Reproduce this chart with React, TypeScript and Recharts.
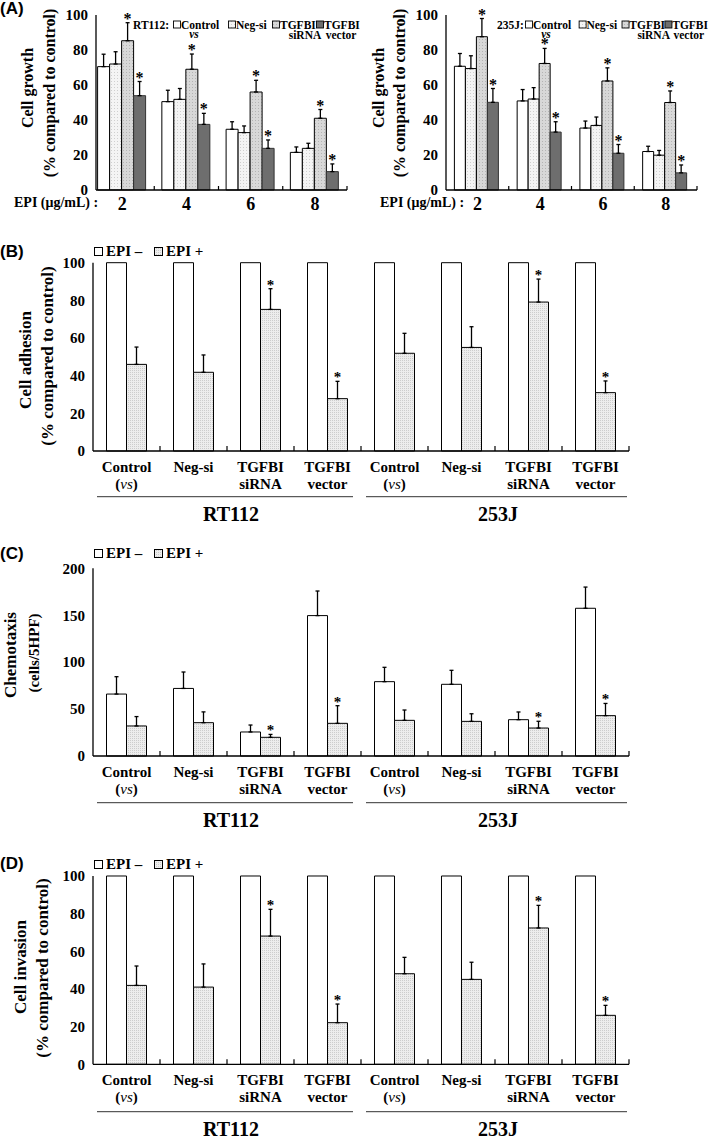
import React from "react";
import { BarChart, Bar, XAxis, YAxis, ErrorBar, LabelList } from "recharts";

const SERIF = "'Liberation Serif', 'Times New Roman', serif";
const SANS = "'Liberation Sans', Arial, sans-serif";

// (A) cell growth (% of control) at each EPI dose
const doses = ["2", "4", "6", "8"];

const rtControl = [70.5, 50.5, 34.7, 21.5];
const rtControlErr = [7.1, 6.5, 4.3, 3.1];
const rtNegSi = [72, 51.8, 32.8, 23.8];
const rtNegSiErr = [7, 6.2, 3.8, 2.9];
const rtSiRNA = [85.3, 69, 56, 41];
const rtSiRNAErr = [10.3, 8.7, 6.7, 5];
const rtVector = [53.9, 37.5, 23.8, 10.5];
const rtVectorErr = [8.1, 6.3, 4.8, 4.4];

const jControl = [70.7, 50.9, 35.4, 22];
const jControlErr = [7.3, 6.5, 4, 3];
const jNegSi = [69.4, 52, 36.9, 19.9];
const jNegSiErr = [7.3, 6.5, 4.8, 2.7];
const jSiRNA = [87.6, 72.3, 62.3, 50];
const jSiRNAErr = [10.4, 8.6, 7.5, 6.6];
const jVector = [50.1, 33.1, 21, 9.8];
const jVectorErr = [7.9, 5.9, 5, 4.5];

const growthStars = [true, true, true, true];
const noStars = [false, false, false, false];

// (B)-(D) two cell lines x four treatments, without / with EPI
const cellLines = ["RT112", "253J"];
const treatTop = ["Control", "Neg-si", "TGFBI", "TGFBI"];
const treatBottom = ["(vs)", "", "siRNA", "vector"];
const epiStars = [false, false, true, true, false, false, true, true];
const noEpiStars = [false, false, false, false, false, false, false, false];

const adhesionMinus = [100, 100, 100, 100, 100, 100, 100, 100];
const adhesionPlus = [46, 41.8, 75.2, 27.8, 51.9, 55, 79.1, 31];
const adhesionPlusErr = [9.2, 9.2, 11, 9.2, 10.6, 11, 12.2, 6.2];

const chemoMinus = [66, 72, 25.6, 149.6, 79.2, 76.4, 38.7, 157.4];
const chemoMinusErr = [18.5, 17.5, 7.4, 26.2, 15.3, 14.9, 8.2, 22.6];
const chemoPlus = [32, 35.5, 19.9, 34.8, 38, 36.9, 29.8, 43];
const chemoPlusErr = [10, 11.5, 3.1, 18.8, 11, 8.1, 7.2, 13];

const invasionMinus = [100, 100, 100, 100, 100, 100, 100, 100];
const invasionPlus = [41.9, 41, 68.1, 22.1, 48.1, 45.1, 72.4, 26];
const invasionPlusErr = [10.3, 12.3, 14.2, 9.9, 8.7, 9.1, 12, 5.3];

const pctTicks = [0, 20, 40, 60, 80, 100];
const chemoTicks = [0, 50, 100, 150, 200];

const yTickStyle = { fill: "#000", fontSize: 15, fontWeight: 700, fontFamily: SERIF };
const axisLine = { stroke: "#000", strokeWidth: 1.3 };

// asterisk above the error bar, placed from the bar's own geometry
function starLabel(vals: number[], errs: number[] | null, stars: boolean[], size: number) {
  return (p: any) => {
    const i = p.index;
    if (!stars[i]) return null;
    const vb = p.viewBox && p.viewBox.width != null ? p.viewBox : p;
    const h = Math.abs(Number(vb.height));
    const top = Math.min(Number(vb.y), Number(vb.y) + Number(vb.height));
    const e = errs ? errs[i] : 0;
    const errTop = top - (e * h) / vals[i];
    return (
      <text x={Number(vb.x) + Number(vb.width) / 2} y={errTop + 1} textAnchor="middle"
        fontFamily={SERIF} fontWeight={700} fontSize={size} fill="#000">*</text>
    );
  };
}

type Series = { key: string; vals: number[]; errs: number[]; fill: string; stroke: string; stars: boolean[] };

function GrowthChart({ left, series, padLeft, gap }: { left: number; series: Series[]; padLeft: number; gap: number }) {
  const rows = doses.map((d, i) => {
    const r: any = { dose: d };
    series.forEach((s) => {
      r[s.key] = s.vals[i];
      r[s.key + "Err"] = [0, s.errs[i]];
    });
    return r;
  });
  const band = (251 - padLeft) / 4;
  const tick = (p: any) => (
    <g>
      <text x={p.x} y={p.y + 20} textAnchor="middle" fontFamily={SERIF} fontWeight={700} fontSize={18} fill="#000">
        {p.payload.value}
      </text>
      <line x1={p.x + band / 2} x2={p.x + band / 2} y1={p.y} y2={p.y - 4} stroke="#000" strokeWidth={1.2} />
    </g>
  );
  return (
    <div style={{ position: "absolute", left, top: 0 }}>
      <BarChart width={360} height={215} data={rows} margin={{ top: 15, right: 13, bottom: 0, left: 0 }}
        barGap={0} barCategoryGap={gap}>
        <XAxis dataKey="dose" padding={{ left: padLeft, right: 0 }} interval={0} height={25}
          tickLine={false} tickSize={0} tickMargin={0} axisLine={axisLine} tick={tick} />
        <YAxis width={96} domain={[0, 100]} ticks={pctTicks} interval={0} tickLine={false}
          axisLine={axisLine} tick={yTickStyle} />
        {series.map((s) => (
          <Bar key={s.key} dataKey={s.key} fill={s.fill} stroke={s.stroke} strokeWidth={1} isAnimationActive={false}>
            <ErrorBar dataKey={s.key + "Err"} width={2} stroke="#000" strokeWidth={1.3} direction="y" />
            <LabelList dataKey={s.key} content={starLabel(s.vals, s.errs, s.stars, 16)} />
          </Bar>
        ))}
      </BarChart>
    </div>
  );
}

function EpiChart({ top, marginTop, height, yMax, yTicks, minus, minusErr, plus, plusErr }: {
  top: number; marginTop: number; height: number; yMax: number; yTicks: number[];
  minus: number[]; minusErr: number[] | null; plus: number[]; plusErr: number[];
}) {
  const rows = cellLines.flatMap((ln, li) =>
    treatTop.map((_, j) => {
      const i = li * 4 + j;
      return {
        cat: `${ln}|${j}`,
        minus: minus[i],
        minusErr: [0, minusErr ? minusErr[i] : 0],
        plus: plus[i],
        plusErr: [0, plusErr[i]],
      };
    })
  );
  const band = 536 / 8;
  const tick = (p: any) => {
    const j = Number(String(p.payload.value).split("|")[1]);
    const t2 = treatBottom[j];
    return (
      <g>
        <text x={p.x} y={p.y + 21} textAnchor="middle" fontFamily={SERIF} fontWeight={700} fontSize={15} fill="#000">
          {treatTop[j]}
        </text>
        {t2 && (
          <text x={p.x} y={p.y + 38} textAnchor="middle" fontFamily={SERIF} fontWeight={700} fontSize={15} fill="#000">
            {t2 === "(vs)" ? (
              <>
                (<tspan fontStyle="italic" fontWeight={400}>vs</tspan>)
              </>
            ) : (
              t2
            )}
          </text>
        )}
        <line x1={p.x + band / 2} x2={p.x + band / 2} y1={p.y} y2={p.y - 5} stroke="#000" strokeWidth={1.2} />
      </g>
    );
  };
  return (
    <div style={{ position: "absolute", left: 0, top }}>
      <BarChart width={709} height={height} data={rows} margin={{ top: marginTop, right: 80, bottom: 0, left: 0 }}
        barGap={0} barCategoryGap={13.5}>
        <XAxis dataKey="cat" interval={0} height={50} tickLine={false} tickSize={0} tickMargin={0}
          axisLine={axisLine} tick={tick} />
        <YAxis width={93} domain={[0, yMax]} ticks={yTicks} interval={0} tickLine={false}
          axisLine={axisLine} tick={yTickStyle} />
        <Bar dataKey="minus" fill="#fff" stroke="#000" strokeWidth={1} isAnimationActive={false}>
          {minusErr && <ErrorBar dataKey="minusErr" width={2} stroke="#000" strokeWidth={1.3} direction="y" />}
          <LabelList dataKey="minus" content={starLabel(minus, minusErr, noEpiStars, 15)} />
        </Bar>
        <Bar dataKey="plus" fill="url(#pPlus)" stroke="#000" strokeWidth={1} isAnimationActive={false}>
          <ErrorBar dataKey="plusErr" width={2} stroke="#000" strokeWidth={1.3} direction="y" />
          <LabelList dataKey="plus" content={starLabel(plus, plusErr, epiStars, 15)} />
        </Bar>
      </BarChart>
    </div>
  );
}

// legend of panel A: name, then four boxed entries (bx = left edge of the first box, k = spacing)
function GrowthLegend({ x, bx, name, k }: { x: number; bx: number; name: string; k: number }) {
  const y = 28.5;
  const box = (dx: number, fill: string) => (
    <rect x={bx + dx * k + 0.5} y={y - 7.5} width={7} height={7} fill={fill} stroke="#000" strokeWidth={0.9} />
  );
  return (
    <g fontFamily={SERIF} fontWeight={700} fontSize={11.5} fill="#000">
      <text x={x} y={y}>{name}:</text>
      {box(0, "#fff")}
      <text x={bx + 8} y={y}>Control</text>
      {box(55, "url(#pNeg)")}
      <text x={bx + 63 * k} y={y}>Neg-si</text>
      {box(99, "url(#pSi)")}
      <text x={bx + 107 * k} y={y}>TGFBI</text>
      {box(143, "#6e6e6e")}
      <text x={bx + 151 * k} y={y}>TGFBI</text>
      <text x={bx + 21} y={y + 9.5} textAnchor="middle" fontStyle="italic">vs</text>
      <text x={bx + 132 * k} y={y + 10} textAnchor="middle">siRNA</text>
      <text x={bx + 168 * k} y={y + 10} textAnchor="middle">vector</text>
    </g>
  );
}

function EpiLegend({ y }: { y: number }) {
  return (
    <g fontFamily={SERIF} fontWeight={700} fontSize={15} fill="#000">
      <rect x={94.5} y={y - 8.5} width={8} height={8} fill="#fff" stroke="#000" />
      <text x={106} y={y}>EPI –</text>
      <rect x={154.5} y={y - 8.5} width={8} height={8} fill="url(#pPlus)" stroke="#000" />
      <text x={166} y={y}>EPI +</text>
    </g>
  );
}

function VLabel({ x, y, size, children }: { x: number; y: number; size: number; children: React.ReactNode }) {
  return (
    <text x={x} y={y} transform={`rotate(-90 ${x} ${y})`} textAnchor="middle" dominantBaseline="central"
      fontFamily={SERIF} fontWeight={700} fontSize={size} fill="#000">
      {children}
    </text>
  );
}

function Bracket({ y }: { y: number }) {
  return (
    <g>
      <line x1={97} x2={353} y1={y} y2={y} stroke="#333" strokeWidth={1} />
      <line x1={366} x2={627} y1={y} y2={y} stroke="#333" strokeWidth={1} />
      <text x={231} y={y + 24} textAnchor="middle" fontFamily={SERIF} fontWeight={700} fontSize={20} fill="#000">RT112</text>
      <text x={498} y={y + 24} textAnchor="middle" fontFamily={SERIF} fontWeight={700} fontSize={20} fill="#000">253J</text>
    </g>
  );
}

export default function App() {
  const rtSeries: Series[] = [
    { key: "control", vals: rtControl, errs: rtControlErr, fill: "#fff", stroke: "#000", stars: noStars },
    { key: "negsi", vals: rtNegSi, errs: rtNegSiErr, fill: "url(#pNeg)", stroke: "#000", stars: noStars },
    { key: "sirna", vals: rtSiRNA, errs: rtSiRNAErr, fill: "url(#pSi)", stroke: "#000", stars: growthStars },
    { key: "vector", vals: rtVector, errs: rtVectorErr, fill: "#6e6e6e", stroke: "#333", stars: growthStars },
  ];
  const jSeries: Series[] = [
    { key: "control", vals: jControl, errs: jControlErr, fill: "#fff", stroke: "#000", stars: noStars },
    { key: "negsi", vals: jNegSi, errs: jNegSiErr, fill: "url(#pNeg)", stroke: "#000", stars: noStars },
    { key: "sirna", vals: jSiRNA, errs: jSiRNAErr, fill: "url(#pSi)", stroke: "#000", stars: growthStars },
    { key: "vector", vals: jVector, errs: jVectorErr, fill: "#6e6e6e", stroke: "#333", stars: growthStars },
  ];
  return (
    <div style={{ position: "absolute", left: 0, top: 0, width: 709, height: 1136, background: "#fff", overflow: "hidden" }}>
      <svg width={0} height={0} style={{ position: "absolute" }}>
        <defs>
          <pattern id="pNeg" width={3} height={3} patternUnits="userSpaceOnUse">
            <rect width={3} height={3} fill="#f4f4f4" />
            <rect width={1} height={1} fill="#cfcfcf" />
          </pattern>
          <pattern id="pSi" width={3} height={3} patternUnits="userSpaceOnUse">
            <rect width={3} height={3} fill="#d8d8d8" />
            <rect width={1} height={1} fill="#b4b4b4" />
          </pattern>
          <pattern id="pPlus" width={2} height={2} patternUnits="userSpaceOnUse">
            <rect width={2} height={2} fill="#ededed" />
            <rect width={1} height={1} fill="#cdcdcd" />
          </pattern>
        </defs>
      </svg>

      <GrowthChart left={0} series={rtSeries} padLeft={-6} gap={7.6} />
      <GrowthChart left={350} series={jSeries} padLeft={0} gap={8.4} />

      <EpiChart top={240} marginTop={22.7} height={261} yMax={100} yTicks={pctTicks}
        minus={adhesionMinus} minusErr={null} plus={adhesionPlus} plusErr={adhesionPlusErr} />
      <EpiChart top={540} marginTop={28.3} height={266} yMax={200} yTicks={chemoTicks}
        minus={chemoMinus} minusErr={chemoMinusErr} plus={chemoPlus} plusErr={chemoPlusErr} />
      <EpiChart top={850} marginTop={26} height={264.3} yMax={100} yTicks={pctTicks}
        minus={invasionMinus} minusErr={null} plus={invasionPlus} plusErr={invasionPlusErr} />

      <svg width={709} height={1136} style={{ position: "absolute", left: 0, top: 0, pointerEvents: "none" }}>
        <g fontFamily={SANS} fontWeight={700} fontSize={17} fill="#000">
          <text x={0} y={14}>(A)</text>
          <text x={0} y={257}>(B)</text>
          <text x={0} y={559}>(C)</text>
          <text x={0} y={869}>(D)</text>
        </g>

        <GrowthLegend x={133} bx={173} name="RT112" k={1} />
        <GrowthLegend x={497} bx={525} name="235J" k={0.975} />

        <VLabel x={27} y={88} size={16}>Cell growth</VLabel>
        <VLabel x={49} y={93} size={16}>(% compared to control)</VLabel>
        <VLabel x={378} y={88} size={16}>Cell growth</VLabel>
        <VLabel x={399} y={93} size={16}>(% compared to control)</VLabel>
        <g fontFamily={SERIF} fontWeight={700} fontSize={14} fill="#000">
          <text x={14} y={207}>EPI (μg/mL) :</text>
          <text x={380} y={207}>EPI (μg/mL) :</text>
        </g>

        <EpiLegend y={256} />
        <VLabel x={25.5} y={360} size={17}>Cell adhesion</VLabel>
        <VLabel x={47.5} y={356} size={17}>(% compared to control)</VLabel>
        <Bracket y={496.7} />

        <EpiLegend y={558} />
        <VLabel x={10} y={655} size={17}>Chemotaxis</VLabel>
        <VLabel x={34} y={653} size={15}>(cells/5HPF)</VLabel>
        <Bracket y={802.7} />

        <EpiLegend y={869} />
        <VLabel x={20} y={967} size={17}>Cell invasion</VLabel>
        <VLabel x={42} y={968} size={17}>(% compared to control)</VLabel>
        <Bracket y={1111.7} />
      </svg>
    </div>
  );
}
